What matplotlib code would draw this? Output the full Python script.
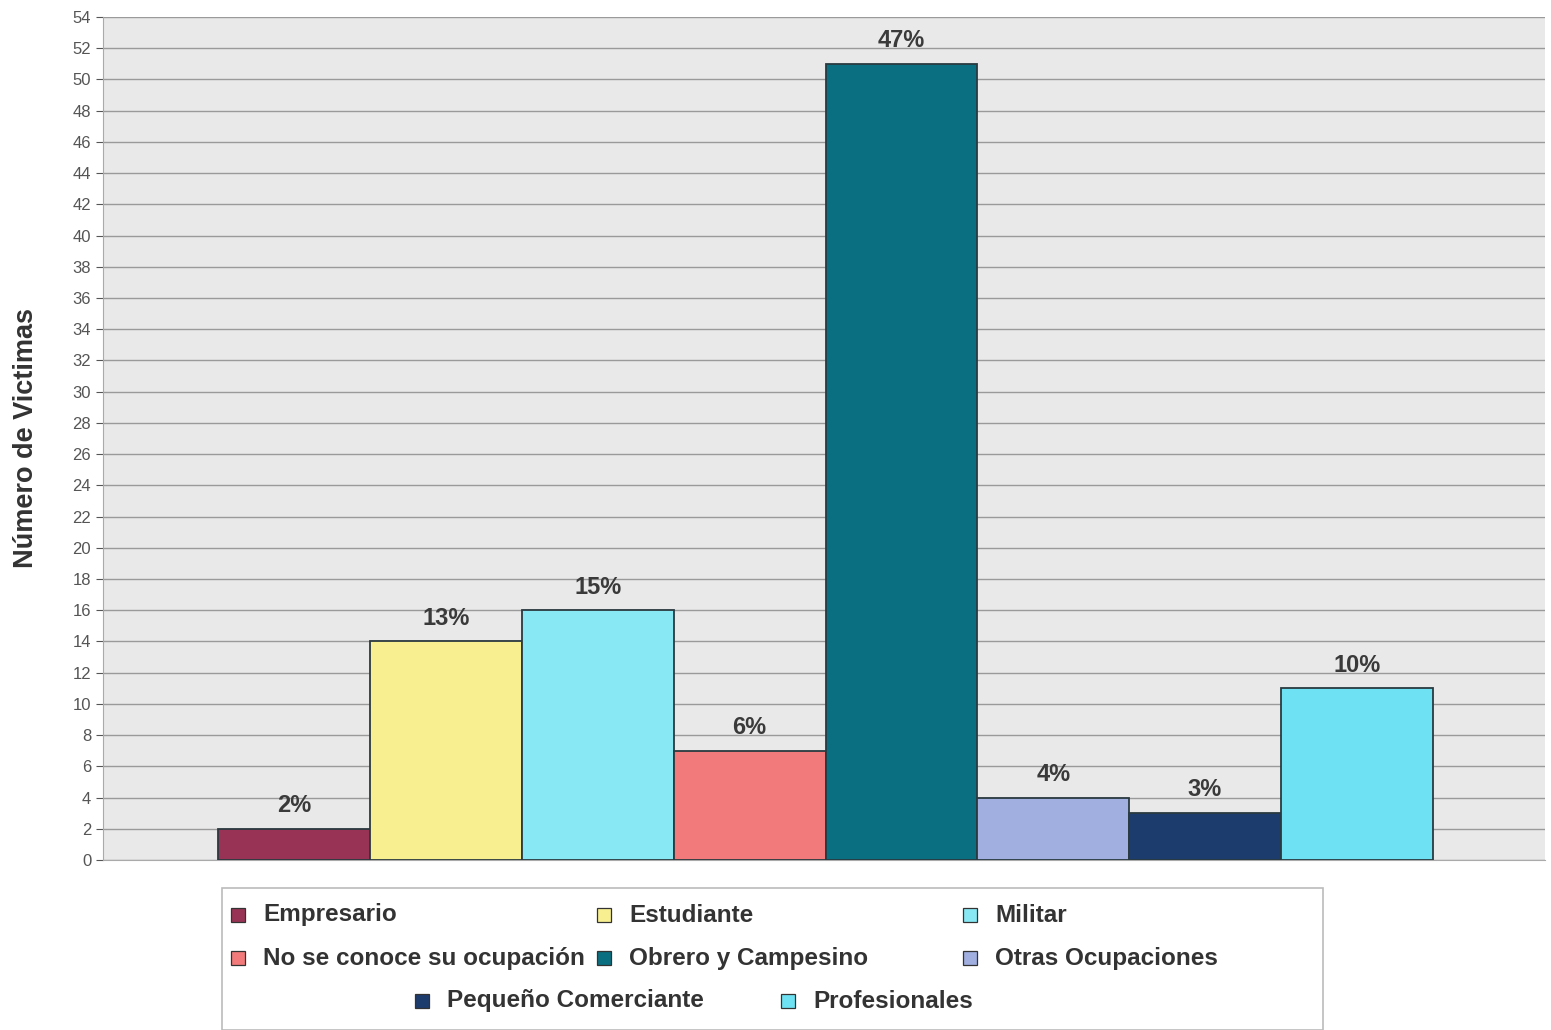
import matplotlib.pyplot as plt
from matplotlib.patches import Rectangle

plt.rcParams["font.family"] = ["Liberation Sans", "DejaVu Sans"]

ocupaciones = ["Empresario", "Estudiante", "Militar", "No se conoce su ocupación",
               "Obrero y Campesino", "Otras Ocupaciones", "Pequeño Comerciante",
               "Profesionales"]
victimas = [2, 14, 16, 7, 51, 4, 3, 11]
colores = ["#993355", "#f8f090", "#88e8f4", "#f27a7a",
           "#0a6f80", "#a0aee0", "#1d3c6e", "#6ee2f2"]

total = sum(victimas)
W, H = 1551, 1030

fig = plt.figure(figsize=(W / 100, H / 100), dpi=100)
ax = fig.add_axes([103 / W, 1 - 860 / H, (1545 - 103) / W, (860 - 17) / H])
ax.set_facecolor("#e9e9e9")

for i, (v, c) in enumerate(zip(victimas, colores)):
    ax.bar(i, v, width=1.0, color=c, edgecolor="#2a3a40", linewidth=1.3, zorder=3)
    ax.text(i, v + 0.75, f"{round(100 * v / total)}%", ha="center", va="bottom",
            fontsize=17, fontweight="bold", color="#3a3a3a", zorder=4)

ax.set_xlim(-1.26, 8.24)
ax.set_ylim(0, 54)
ax.set_yticks(range(0, 55, 2))
ax.tick_params(axis="y", labelsize=12, colors="#555555", length=5, width=0.8)
ax.set_xticks([])
ax.grid(axis="y", color="#9a9a9a", linewidth=1.0, zorder=0)
for s in ["top", "right"]:
    ax.spines[s].set_visible(False)
ax.spines["left"].set_color("#aaaaaa")
ax.spines["bottom"].set_color("#aaaaaa")
ax.set_ylabel("Número de Victimas", fontsize=19.5, fontweight="bold", color="#333333",
              labelpad=24)

# legend box: two rows of three, then a centred row of two
fig.patches.append(Rectangle((222 / W, 0), (1323 - 222) / W, (H - 888) / H,
                             transform=fig.transFigure, facecolor="white",
                             edgecolor="#bbbbbb", linewidth=1.2))
col_x = [231, 597, 963, 231, 597, 963, 415, 781]
row_y = [915, 915, 915, 958, 958, 958, 1001, 1001]
for name, c, x, y in zip(ocupaciones, colores, col_x, row_y):
    fig.patches.append(Rectangle((x / W, 1 - (y + 7) / H), 14 / W, 14 / H,
                                 transform=fig.transFigure, facecolor=c,
                                 edgecolor="#333333", linewidth=0.9))
    fig.text((x + 32) / W, 1 - y / H, name, ha="left", va="center",
             fontsize=17.5, fontweight="bold", color="#333333")

fig.savefig("out.png", dpi=100, facecolor="white")
